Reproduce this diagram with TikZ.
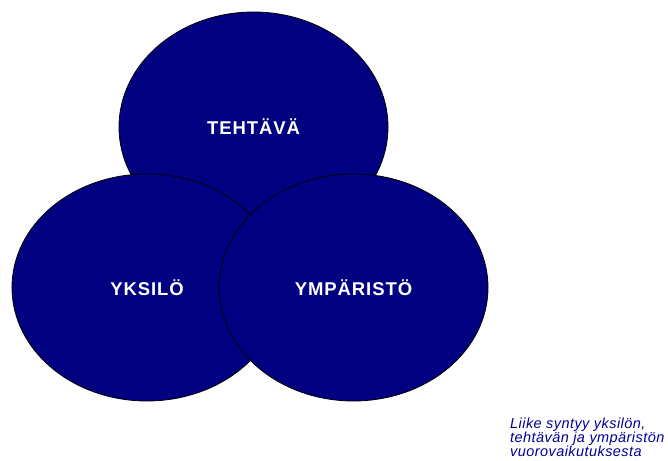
\documentclass[tikz,border=0pt]{standalone}
\usepackage{fontspec}
\usetikzlibrary{shapes.geometric}
\newfontfamily\lblfont[LetterSpace=5]{Liberation Sans Bold}
\newfontfamily\capfont[LetterSpace=3]{Liberation Sans Italic}
\definecolor{navyfill}{RGB}{0,0,128}
\definecolor{captionblue}{RGB}{0,0,150}
\begin{document}
\begin{tikzpicture}[x=1bp,y=1bp,
  blob/.style={ellipse, draw=black, line width=0.8bp, fill=navyfill, inner sep=0pt,
    text=white, font=\lblfont\fontsize{18.5bp}{20bp}\selectfont}]
\useasboundingbox (0,0) rectangle (668,-461);
\node[blob, minimum width=269bp, minimum height=230bp] (teh) at (253.5,-127) {TEHTÄVÄ};
\node[blob, minimum width=270bp, minimum height=227bp] (yks) at (147,-287.5) {YKSILÖ};
\node[blob, minimum width=269bp, minimum height=227bp] (ymp) at (353.5,-287.5) {YMPÄRISTÖ};
\node[anchor=base west, inner sep=0pt, align=left, text=captionblue,
  font=\capfont\fontsize{14.5bp}{14.2bp}\selectfont] (cap) at (510,-456.7)
  {Liike syntyy yksilön,\\tehtävän ja ympäristön\\vuorovaikutuksesta};
\end{tikzpicture}
\end{document}
